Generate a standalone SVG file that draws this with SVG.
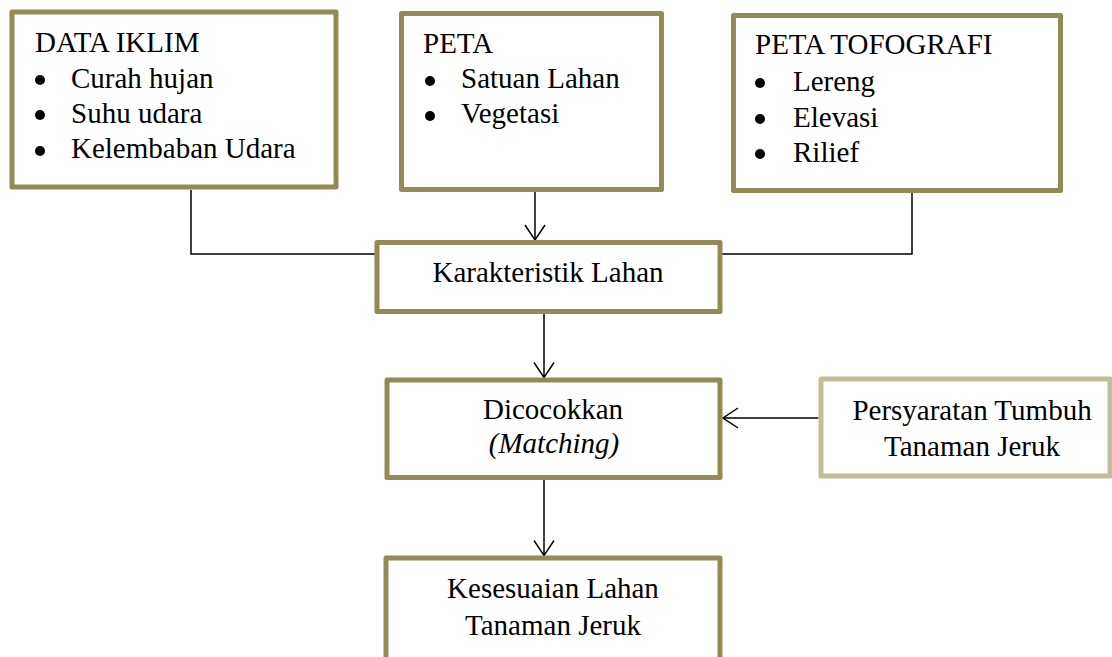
<svg xmlns="http://www.w3.org/2000/svg" width="1112" height="657" viewBox="0 0 1112 657">
<style>
.box{fill:#fff;stroke:#948A54;stroke-width:5;stroke-linejoin:round}
.light{stroke:#C4BD97}
.t{font-family:"Liberation Serif","Times New Roman",serif;font-size:29px;fill:#000}
.c{text-anchor:middle}
.i{font-style:italic}
.ln{fill:none;stroke:#000;stroke-width:1.5}
.dot{fill:#000}
</style>
<defs>
<marker id="arr" markerUnits="userSpaceOnUse" markerWidth="18" markerHeight="22" viewBox="0 0 18 22" refX="16" refY="11" orient="auto">
<path d="M1,1 L16,11 L1,21" fill="none" stroke="#000" stroke-width="1.5"/>
</marker>
</defs>
<rect width="1112" height="657" fill="#fff"/>
<g id="connectors">
<path class="ln" d="M191,190 V254 H375"/>
<path class="ln" d="M912,193 V254 H722"/>
<path class="ln" d="M535,192 V240" marker-end="url(#arr)"/>
<path class="ln" d="M544,314 V377.5" marker-end="url(#arr)"/>
<path class="ln" d="M818.5,418 H723" marker-end="url(#arr)"/>
<path class="ln" d="M544,480 V555.5" marker-end="url(#arr)"/>
</g>
<g id="data-iklim">
<rect class="box" x="12" y="12" width="324" height="175"/>
<text class="t" x="35" y="52">DATA IKLIM</text>
<circle class="dot" cx="40" cy="80" r="5"/><text class="t" x="71" y="88">Curah hujan</text>
<circle class="dot" cx="40" cy="115" r="5"/><text class="t" x="71" y="123">Suhu udara</text>
<circle class="dot" cx="40" cy="151" r="5"/><text class="t" x="71" y="158">Kelembaban Udara</text>
</g>
<g id="peta">
<rect class="box" x="401.5" y="13.5" width="260" height="176"/>
<text class="t" x="423" y="53">PETA</text>
<circle class="dot" cx="430" cy="81" r="5"/><text class="t" x="461" y="88">Satuan Lahan</text>
<circle class="dot" cx="430" cy="116" r="5"/><text class="t" x="461" y="123">Vegetasi</text>
</g>
<g id="peta-tofografi">
<rect class="box" x="733.5" y="15.5" width="327" height="175"/>
<text class="t" x="755" y="54">PETA TOFOGRAFI</text>
<circle class="dot" cx="760" cy="83" r="5"/><text class="t" x="793" y="91">Lereng</text>
<circle class="dot" cx="760" cy="119" r="5"/><text class="t" x="793" y="127">Elevasi</text>
<circle class="dot" cx="760" cy="154" r="5"/><text class="t" x="793" y="162">Rilief</text>
</g>
<g id="karakteristik">
<rect class="box" x="377" y="242.5" width="343" height="69"/>
<text class="t c" x="548" y="282">Karakteristik Lahan</text>
</g>
<g id="dicocokkan">
<rect class="box" x="387" y="380" width="333" height="97.5"/>
<text class="t c" x="553" y="419">Dicocokkan</text>
<text class="t c i" x="554" y="453">(Matching)</text>
</g>
<g id="persyaratan">
<rect class="box light" x="821" y="379" width="289" height="97"/>
<text class="t c" x="972" y="420">Persyaratan Tumbuh</text>
<text class="t c" x="972" y="456">Tanaman Jeruk</text>
</g>
<g id="kesesuaian">
<rect class="box" x="386" y="558" width="334" height="120"/>
<text class="t c" x="553" y="598">Kesesuaian Lahan</text>
<text class="t c" x="553" y="635">Tanaman Jeruk</text>
</g>
</svg>
